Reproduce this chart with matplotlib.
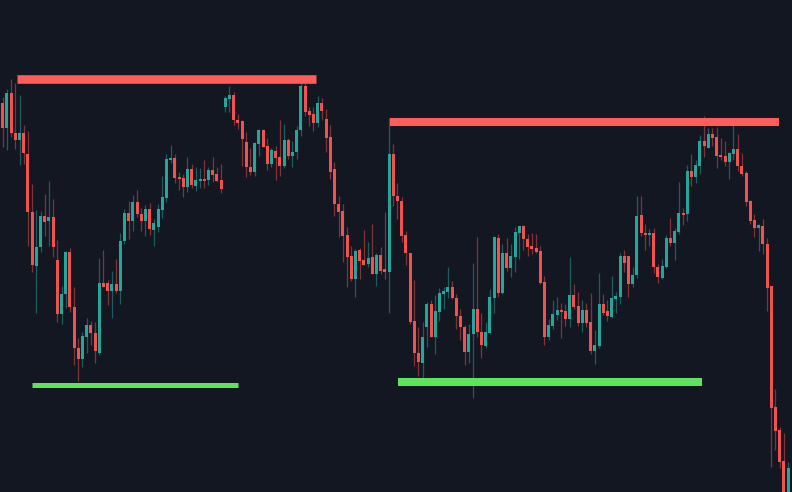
import numpy as np
import matplotlib
matplotlib.use("Agg")
import matplotlib.pyplot as plt

# candle OHLC (price units)
opens = [396.7, 371.7, 407.0, 367.0, 360.3, 367.0, 346.0, 288.0, 234.3, 252.7,
         284.0, 279.3, 283.0, 240.0, 186.0, 206.0, 248.0, 193.0, 152.0, 140.7,
         163.3, 175.0, 166.7, 147.0, 217.3, 217.3, 209.0, 216.0, 209.0, 259.0,
         286.7, 279.0, 297.7, 285.7, 279.0, 291.3, 270.0, 273.3, 290.0, 302.3,
         340.3, 342.0, 323.3, 322.3, 313.3, 331.3, 314.3, 319.3, 321.3, 320.0,
         330.3, 325.7, 320.0, 392.7, 401.3, 405.3, 380.0, 379.0, 358.0, 333.3,
         327.7, 356.0, 370.0, 354.0, 336.3, 349.3, 343.0, 334.3, 360.0, 344.3,
         347.7, 369.7, 414.0, 388.7, 386.0, 377.3, 397.0, 381.0, 363.0, 331.0,
         296.0, 289.3, 264.7, 244.3, 221.0, 250.3, 240.0, 236.0, 242.7, 226.3,
         245.0, 230.7, 228.0, 345.7, 304.3, 299.0, 265.0, 247.0, 178.7, 147.3,
         137.0, 173.3, 196.0, 163.3, 188.3, 206.0, 208.3, 213.3, 202.3, 184.0,
         173.3, 148.3, 165.7, 191.0, 167.7, 154.3, 166.7, 202.3, 262.3, 206.7,
         246.7, 231.7, 243.3, 267.3, 274.3, 261.3, 254.3, 252.3, 249.3, 218.3,
         163.3, 174.0, 185.0, 190.0, 189.3, 181.3, 205.0, 194.0, 176.7, 190.0,
         178.3, 149.3, 154.0, 196.0, 188.7, 183.3, 201.3, 203.3, 244.3, 244.3,
         215.7, 224.7, 284.7, 267.3, 265.0, 267.3, 233.3, 222.3, 233.3, 261.7,
         256.7, 268.3, 287.3, 286.0, 329.3, 323.3, 334.3, 359.3, 352.3, 366.0,
         362.7, 345.0, 344.0, 338.3, 346.0, 351.0, 334.3, 326.7, 299.0, 280.0,
         272.3, 274.0, 256.0, 214.0, 93.3, 70.0, 39.3, -5.0]
highs = [403.3, 410.7, 420.7, 416.7, 405.0, 375.0, 369.0, 316.0, 290.0, 289.3,
         305.7, 319.0, 301.3, 260.0, 213.7, 249.3, 251.7, 213.0, 162.3, 167.7,
         182.3, 179.0, 177.7, 242.3, 250.0, 220.0, 229.3, 241.3, 267.3, 291.3,
         299.3, 304.7, 310.3, 291.7, 294.7, 296.7, 281.0, 296.0, 324.0, 346.0,
         355.0, 345.7, 327.7, 325.7, 343.3, 335.7, 332.7, 332.3, 340.0, 332.7,
         343.0, 333.3, 335.7, 404.3, 414.0, 407.7, 386.0, 379.7, 368.3, 352.0,
         357.7, 371.3, 371.0, 362.3, 352.3, 354.0, 380.0, 375.7, 362.3, 358.7,
         374.3, 417.3, 417.3, 393.0, 393.3, 404.0, 401.7, 390.7, 375.3, 338.0,
         304.0, 296.0, 272.7, 254.0, 250.7, 251.7, 270.0, 258.3, 276.0, 246.7,
         253.3, 288.0, 381.7, 356.0, 316.7, 303.3, 269.3, 247.0, 220.0, 172.7,
         177.7, 198.3, 200.0, 205.0, 211.7, 213.3, 232.7, 219.3, 206.0, 190.7,
         175.0, 176.0, 236.7, 263.3, 186.7, 178.0, 211.0, 264.0, 265.7, 256.0,
         261.7, 256.0, 272.7, 274.3, 275.0, 265.7, 266.7, 266.0, 254.3, 224.0,
         180.7, 200.0, 202.7, 197.3, 196.0, 242.7, 216.0, 207.7, 200.0, 197.3,
         207.3, 170.0, 227.3, 206.0, 200.0, 224.0, 208.3, 246.7, 250.0, 244.3,
         232.7, 304.0, 304.0, 276.0, 270.7, 272.3, 236.0, 240.7, 265.0, 281.7,
         271.7, 318.3, 292.3, 335.0, 346.0, 340.0, 365.0, 384.0, 371.7, 371.7,
         373.3, 361.7, 359.3, 348.3, 375.0, 366.0, 346.7, 329.3, 300.0, 286.0,
         276.0, 280.7, 261.7, 214.0, 111.0, 72.7, 67.0, 38.3]
lows = [352.7, 350.0, 362.7, 351.0, 335.0, 336.0, 254.3, 228.0, 187.3, 247.7,
        264.3, 254.3, 243.3, 178.3, 176.0, 191.7, 187.7, 134.7, 118.7, 133.3,
        147.3, 155.0, 136.7, 145.0, 213.0, 195.0, 182.3, 206.7, 195.7, 255.7,
        261.0, 269.0, 283.3, 269.0, 264.3, 265.0, 254.3, 267.7, 282.3, 297.7,
        337.3, 316.7, 310.0, 303.3, 308.0, 312.0, 309.3, 312.3, 312.3, 315.0,
        317.7, 317.7, 307.3, 388.3, 388.3, 375.0, 371.3, 334.3, 322.7, 325.0,
        324.3, 344.0, 352.7, 330.0, 333.3, 320.0, 324.3, 332.3, 341.0, 333.3,
        341.3, 364.0, 384.0, 374.3, 369.3, 373.0, 380.0, 347.7, 321.3, 284.3,
        263.0, 238.0, 212.7, 219.3, 202.7, 221.0, 235.3, 232.7, 226.3, 214.0,
        226.0, 221.0, 186.7, 294.0, 281.0, 257.7, 234.7, 176.0, 134.0, 124.0,
        121.7, 153.3, 162.7, 146.0, 178.7, 190.7, 201.7, 200.7, 170.7, 160.0,
        135.0, 136.7, 102.3, 163.3, 142.3, 151.7, 165.7, 186.7, 203.3, 206.0,
        229.3, 222.7, 228.3, 240.7, 250.0, 244.3, 246.3, 247.3, 215.7, 155.0,
        160.0, 170.7, 180.0, 162.3, 174.0, 173.3, 191.0, 174.3, 167.7, 173.3,
        146.0, 136.0, 151.7, 185.0, 179.3, 182.3, 186.7, 196.0, 227.7, 203.3,
        212.7, 221.7, 264.0, 250.0, 254.3, 227.3, 216.7, 221.0, 232.3, 254.3,
        240.0, 265.7, 275.0, 279.3, 314.0, 317.3, 325.7, 343.3, 352.3, 354.3,
        332.3, 340.0, 334.3, 321.0, 340.0, 329.3, 324.3, 294.3, 275.7, 262.7,
        249.3, 246.0, 189.3, 33.3, 50.0, 31.7, -10.0, -15.0]
closes = [372.3, 407.0, 366.7, 360.0, 367.0, 346.7, 288.0, 234.7, 253.0, 284.0,
          278.0, 283.0, 252.7, 186.0, 206.0, 248.3, 192.7, 152.0, 140.7, 164.0,
          175.0, 166.7, 149.0, 217.3, 213.3, 209.0, 216.0, 209.0, 259.3, 286.7,
          279.0, 297.7, 285.7, 279.0, 291.3, 271.3, 277.3, 291.0, 303.3, 341.0,
          342.0, 321.7, 321.0, 313.3, 331.3, 314.7, 320.0, 321.3, 319.3, 330.3,
          325.0, 319.3, 311.3, 401.7, 405.3, 380.0, 377.3, 360.7, 332.7, 328.0,
          356.7, 370.0, 353.0, 336.3, 349.7, 342.3, 334.3, 360.3, 344.3, 348.0,
          370.3, 414.0, 387.7, 385.3, 377.3, 397.0, 389.0, 362.3, 328.0, 296.0,
          288.3, 264.0, 243.3, 221.0, 249.3, 239.0, 235.3, 242.3, 226.3, 245.0,
          229.3, 228.0, 345.7, 304.0, 299.0, 264.3, 246.7, 177.7, 146.7, 138.3,
          162.7, 196.0, 163.3, 189.0, 206.7, 209.0, 213.3, 201.7, 184.0, 172.7,
          148.3, 165.7, 191.0, 167.7, 155.0, 168.3, 202.7, 263.3, 206.7, 246.7,
          231.7, 244.0, 268.0, 274.3, 261.3, 253.3, 251.3, 248.3, 216.7, 163.3,
          175.0, 186.0, 190.0, 187.7, 181.3, 205.0, 193.3, 176.7, 190.0, 177.3,
          149.3, 155.0, 196.0, 187.3, 184.0, 201.7, 204.0, 244.3, 236.7, 215.7,
          225.3, 284.3, 266.7, 265.0, 267.3, 232.7, 222.7, 234.3, 261.7, 256.7,
          269.3, 286.7, 285.0, 329.3, 323.3, 335.0, 359.3, 354.0, 366.0, 362.3,
          344.3, 342.7, 338.3, 346.7, 351.0, 334.0, 326.0, 298.3, 279.3, 272.3,
          274.7, 255.7, 211.7, 92.3, 69.3, 38.3, 0.0, 31.7]

# support / resistance levels: (price, first candle, last candle)
resistance = [(421.0, 3.4, 74.6), (378.0, 92.2, 184.8)]
support = [(114.7, 7.0, 56.0), (118.3, 94.1, 166.5)]

BG = "#131722"
UP = "#26a69a"
DOWN = "#f0524f"

o = np.array(opens)
h = np.array(highs)
l = np.array(lows)
c = np.array(closes)
x = np.arange(len(o))
up = c >= o

fig = plt.figure(figsize=(7.92, 4.92), dpi=100, facecolor=BG)
ax = fig.add_axes([0, 0, 1, 1])
ax.set_facecolor(BG)

# wicks
ax.vlines(x[up], l[up], h[up], color=UP, alpha=0.5, linewidth=0.9, zorder=1)
ax.vlines(x[~up], l[~up], h[~up], color=DOWN, alpha=0.5, linewidth=0.9, zorder=1)

# bodies
bot = np.minimum(o, c)
ht = np.maximum(np.abs(c - o), 1.2)
ax.bar(x[up], ht[up], bottom=bot[up], width=0.72, color=UP, linewidth=0, zorder=2)
ax.bar(x[~up], ht[~up], bottom=bot[~up], width=0.72, color=DOWN, linewidth=0, zorder=2)

# levels
for (lvl, x0, x1), lw in zip(resistance, [6.2, 5.8]):
    ax.hlines(lvl, x0, x1, color="#ff5c5c", linewidth=lw, zorder=3)
for (lvl, x0, x1), lw in zip(support, [3.6, 5.8]):
    ax.hlines(lvl, x0, x1, color="#5de35d", linewidth=lw, zorder=3)

ax.set_xlim(-0.643, 187.93)
ax.set_ylim(8, 500)
ax.axis("off")

fig.savefig("out.png", dpi=100, facecolor=BG)
